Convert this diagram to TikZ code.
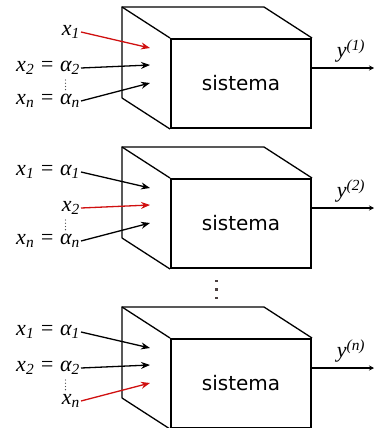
\documentclass[tikz,border=0pt]{standalone}
\usepackage{fontspec}
\setmainfont{DejaVu Sans}
\newfontfamily\etiq{Liberation Serif}
\usetikzlibrary{arrows.meta,calc}
\definecolor{rojo}{HTML}{D01010}
\definecolor{puntos}{HTML}{4A3F3F}

\begin{document}
\begin{tikzpicture}[
      x=1pt,y=-1pt,
      >={Stealth[length=9pt,width=7pt]},
      every node/.style={font=\etiq\itshape\fontsize{22}{24}\selectfont},
      front/.style={draw,line width=2pt,fill=white,minimum width=140pt,minimum height=89pt,inner sep=0pt,font=\normalfont\fontsize{20}{24}\selectfont},
      back/.style={draw,line width=1.3pt},
      inp/.style={draw,line width=1.3pt,->},
      act/.style={inp,draw=rojo},
      outp/.style={draw,line width=1.1pt,->,>={Stealth[length=5pt,width=5pt]}},
      lbl/.style={inner sep=1pt,anchor=east},
      dt/.style={circle,fill=black!70,inner sep=0pt,minimum size=1.3pt},
      bigdt/.style={rectangle,fill=puntos,inner sep=0pt,minimum size=2.8pt}
    ]
    \useasboundingbox (0,0) rectangle (374,428);
    % the three boxes, front face with back edges
    \foreach \n/\off in {1/0,2/140,3/300}{
      \node[front] (s\n) at (241,83.5+\off) {sistema};
      \coordinate (btl\n) at ($(s\n.north west)+(-48,-31)$);
      \coordinate (btr\n) at ($(s\n.north east)+(-48,-31)$);
      \coordinate (bbl\n) at ($(s\n.south west)+(-48,-31)$);
      \draw[back] (bbl\n) -- (btl\n) -- (btr\n) -- (s\n.north east);
      \draw[back] (btl\n) -- (s\n.north west);
      \draw[back] (bbl\n) -- (s\n.south west);
      % arrow targets on the back face
      \coordinate (t\n a) at (150,48+\off);
      \coordinate (t\n b) at (150,65+\off);
      \coordinate (t\n c) at (150,83+\off);
      % output
      \coordinate (o\n) at (311,68+\off);
      \coordinate (e\n) at (374,68+\off);
      \draw[outp] (o\n) -- (e\n);
      % dots between x_2 and x_n
      \foreach \k in {0,1,2,3}{\node[dt] (d\n\k) at (65.5,80+3.2*\k+\off) {};}
    }
    % inputs of box 1
    \node[lbl] (p1a) at (81,32) {x\textsubscript{1}};
    \node[lbl] (p1b) at (81,68) {x\textsubscript{2} = α\textsubscript{2}};
    \node[lbl] (p1c) at (81,101) {x\textsubscript{n} = α\textsubscript{n}};
    \draw[act] (p1a.east) -- (t1a);
    \draw[inp] (p1b.east) -- (t1b);
    \draw[inp] (p1c.east) -- (t1c);
    % inputs of box 2
    \node[lbl] (p2a) at (81,172) {x\textsubscript{1} = α\textsubscript{1}};
    \node[lbl] (p2b) at (81,208) {x\textsubscript{2}};
    \node[lbl] (p2c) at (81,241) {x\textsubscript{n} = α\textsubscript{n}};
    \draw[inp] (p2a.east) -- (t2a);
    \draw[act] (p2b.east) -- (t2b);
    \draw[inp] (p2c.east) -- (t2c);
    % inputs of box 3
    \node[lbl] (p3a) at (81,332) {x\textsubscript{1} = α\textsubscript{1}};
    \node[lbl] (p3b) at (81,368) {x\textsubscript{2} = α\textsubscript{2}};
    \node[lbl] (p3c) at (81,401) {x\textsubscript{n}};
    \draw[inp] (p3a.east) -- (t3a);
    \draw[inp] (p3b.east) -- (t3b);
    \draw[act] (p3c.east) -- (t3c);
    % output labels
    \node (y1) at (351,51) {y\textsuperscript{(1)}};
    \node (y2) at (351,191) {y\textsuperscript{(2)}};
    \node (y3) at (351,351) {y\textsuperscript{(n)}};
    % boxes left out
    \foreach \k in {0,1,2}{\node[bigdt] (m\k) at (216.5,281+8.5*\k) {};}
  \end{tikzpicture}
\end{document}
